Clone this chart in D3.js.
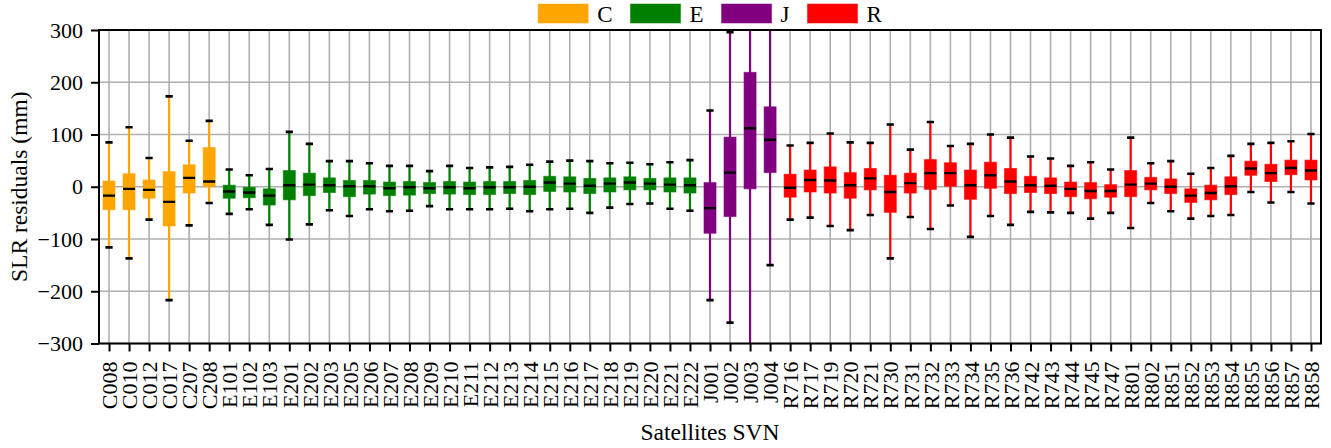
<!DOCTYPE html>
<html>
<head>
<meta charset="utf-8">
<script src="https://cdn.jsdelivr.net/npm/d3@7"></script>
<style>
  body { margin: 0; background: #fff; }
</style>
</head>
<body>
<svg id="chart" width="1331" height="448" font-family="Liberation Serif, DejaVu Serif, serif"></svg>
<script>
// satellites and their residual box statistics (mm)
var svn = ["C008","C010","C012","C017","C207","C208",
  "E101","E102","E103","E201","E202","E203","E205","E206","E207","E208","E209","E210",
  "E211","E212","E213","E214","E215","E216","E217","E218","E219","E220","E221","E222",
  "J001","J002","J003","J004",
  "R716","R717","R719","R720","R721","R730","R731","R732","R733","R734","R735","R736",
  "R742","R743","R744","R745","R747","R801","R802","R851","R852","R853","R854",
  "R855","R856","R857","R858"];

var whiskLo = [-116,-137,-63,-217,-74,-31,
  -52,-43,-73,-101,-72,-45,-56,-43,-47,-46,-37,-43,
  -43,-43,-42,-47,-43,-42,-50,-40,-33,-32,-42,-46,
  -217,-260,-330,-150,
  -63,-59,-75,-83,-54,-137,-58,-81,-36,-96,-56,-73,
  -48,-49,-50,-61,-50,-79,-31,-47,-61,-56,-54,
  -10,-30,-10,-32];
var q1 = [-44,-44,-22,-75,-12,0,
  -22,-21,-35,-25,-17,-11,-19,-14,-17,-16,-13,-14,
  -15,-15,-13,-15,-9,-10,-13,-10,-6,-6,-10,-12,
  -89,-57,-4,27,
  -20,-10,-12,-22,-6,-49,-12,-5,1,-24,-3,-13,
  -11,-13,-19,-23,-20,-19,-6,-13,-30,-25,-15,
  22,10,23,13];
var med = [-17,-4,-6,-29,17,10,
  -9,-11,-17,3,4,3,1,1,-3,-1,-3,-1,
  -3,-1,-1,0,8,6,2,6,8,6,4,3,
  -41,27,112,90,
  -2,13,12,3,16,-10,7,26,26,3,22,10,
  3,2,-4,-8,-8,4,6,0,-17,-12,1,
  35,26,36,31];
var q3 = [11,25,13,29,42,75,
  3,-1,-4,31,26,17,12,12,9,10,8,10,
  9,10,10,12,20,19,16,17,19,16,17,17,
  8,95,219,153,
  24,32,38,27,35,22,26,52,46,32,47,35,
  20,17,9,8,4,31,18,15,-4,3,19,
  49,43,51,51];
var whiskHi = [85,114,55,173,88,126,
  33,22,34,105,82,49,49,45,40,40,30,40,
  36,37,38,42,48,50,49,45,46,43,47,51,
  146,296,340,320,
  79,84,102,85,84,119,71,124,78,82,100,94,
  58,54,40,47,33,94,45,49,25,36,59,
  82,84,87,101];

var groups = ["C", "E", "J", "R"];
var groupColors = ["orange", "green", "purple", "red"];
var yTicks = [-300, -200, -100, 0, 100, 200, 300];

var FONT = "Liberation Serif, DejaVu Serif, serif";
var margin = { left: 99, right: 10, top: 30, bottom: 104.5 };
var W = 1331, H = 448;
var svg = d3.select("#chart");

var x = d3.scalePoint().domain(svn).range([margin.left, W - margin.right]).padding(0.5);
var y = d3.scaleLinear().domain([-300, 300]).range([H - margin.bottom, margin.top]);
var color = d3.scaleOrdinal().domain(groups).range(groupColors);
var step = x.step();

var boxes = svn.map(function (s, i) {
  return { id: s, grp: s.charAt(0), lo: whiskLo[i], q1: q1[i], med: med[i], q3: q3[i], hi: whiskHi[i] };
});

svg.append("defs").append("clipPath").attr("id", "plotClip")
  .append("rect")
  .attr("x", margin.left).attr("y", margin.top)
  .attr("width", W - margin.left - margin.right)
  .attr("height", H - margin.top - margin.bottom);

// grid
var grid = svg.append("g").attr("id", "grid").attr("stroke", "#b0b0b0").attr("stroke-width", 1.6);
grid.selectAll("line.v").data(svn).enter().append("line")
  .attr("class", "v")
  .attr("x1", function (d) { return x(d); }).attr("x2", function (d) { return x(d); })
  .attr("y1", margin.top).attr("y2", H - margin.bottom);
grid.selectAll("line.h").data(yTicks).enter().append("line")
  .attr("class", "h")
  .attr("x1", margin.left).attr("x2", W - margin.right)
  .attr("y1", function (d) { return y(d); }).attr("y2", function (d) { return y(d); });

// boxes
var bw = step * 0.6, cw = step * 0.36;
var box = svg.append("g").attr("clip-path", "url(#plotClip)")
  .selectAll("g.box").data(boxes).enter().append("g").attr("class", "box");

box.append("line")
  .attr("x1", function (d) { return x(d.id); }).attr("x2", function (d) { return x(d.id); })
  .attr("y1", function (d) { return y(d.lo); }).attr("y2", function (d) { return y(d.hi); })
  .attr("stroke", function (d) { return color(d.grp); })
  .attr("stroke-width", 2.2);

box.append("rect")
  .attr("x", function (d) { return x(d.id) - bw / 2; })
  .attr("width", bw)
  .attr("y", function (d) { return y(d.q3); })
  .attr("height", function (d) { return y(d.q1) - y(d.q3); })
  .attr("fill", function (d) { return color(d.grp); })
  .attr("stroke", function (d) { return color(d.grp); })
  .attr("stroke-opacity", 0.6)
  .attr("stroke-width", 1);

box.selectAll("line.cap").data(function (d) { return [[d.id, d.lo], [d.id, d.hi]]; })
  .enter().append("line").attr("class", "cap")
  .attr("x1", function (d) { return x(d[0]) - cw / 2; })
  .attr("x2", function (d) { return x(d[0]) + cw / 2; })
  .attr("y1", function (d) { return y(d[1]); }).attr("y2", function (d) { return y(d[1]); })
  .attr("stroke", "#000").attr("stroke-width", 2.6);

box.append("line")
  .attr("x1", function (d) { return x(d.id) - bw / 2; })
  .attr("x2", function (d) { return x(d.id) + bw / 2; })
  .attr("y1", function (d) { return y(d.med); }).attr("y2", function (d) { return y(d.med); })
  .attr("stroke", "#000").attr("stroke-width", 2.4);

// frame
svg.append("rect")
  .attr("x", margin.left).attr("y", margin.top)
  .attr("width", W - margin.left - margin.right)
  .attr("height", H - margin.top - margin.bottom)
  .attr("fill", "none").attr("stroke", "#000").attr("stroke-width", 2);

// axes
var yAxis = svg.append("g")
  .attr("transform", "translate(" + margin.left + ",0)")
  .call(d3.axisLeft(y).tickValues(yTicks).tickSize(8).tickPadding(8));
var xAxis = svg.append("g")
  .attr("transform", "translate(0," + (H - margin.bottom) + ")")
  .call(d3.axisBottom(x).tickSize(8).tickPadding(8));

[yAxis, xAxis].forEach(function (a) {
  a.attr("font-family", FONT);
  a.select(".domain").remove();
  a.selectAll(".tick line").attr("stroke", "#000").attr("stroke-width", 2);
  a.selectAll(".tick text").attr("font-family", FONT).attr("fill", "#000");
});
yAxis.selectAll(".tick text").attr("font-size", 22);
xAxis.selectAll(".tick text")
  .attr("font-size", 22)
  .attr("text-anchor", "end")
  .attr("transform", "rotate(-90)")
  .attr("x", -18).attr("y", 0).attr("dy", "0.35em");

// axis titles
svg.append("text")
  .attr("transform", "translate(27," + y(0) + ") rotate(-90)")
  .attr("text-anchor", "middle")
  .attr("font-family", FONT)
  .attr("font-size", 23.5)
  .text("SLR residuals (mm)");
svg.append("text")
  .attr("x", (margin.left + W - margin.right) / 2).attr("y", 440)
  .attr("text-anchor", "middle")
  .attr("font-family", FONT)
  .attr("font-size", 23.5)
  .text("Satellites SVN");

// legend
var legend = svg.append("g").attr("id", "legend");
var item = legend.selectAll("g").data(groups).enter().append("g");
item.append("rect")
  .attr("width", 50).attr("height", 19).attr("y", 4)
  .attr("fill", function (d) { return color(d); })
  .attr("stroke", function (d) { return color(d); })
  .attr("stroke-opacity", 0.5);
item.append("text")
  .attr("x", 59).attr("y", 22)
  .attr("font-family", FONT)
  .attr("font-size", 23)
  .text(function (d) { return d; });
var offs = [], total = 0;
item.each(function () {
  offs.push(total);
  total += 59 + d3.select(this).select("text").node().getComputedTextLength() + 18;
});
total -= 18;
var lx = (margin.left + W - margin.right) / 2 - total / 2;
item.attr("transform", function (d, i) { return "translate(" + (lx + offs[i]) + ",0)"; });
</script>
</body>
</html>
